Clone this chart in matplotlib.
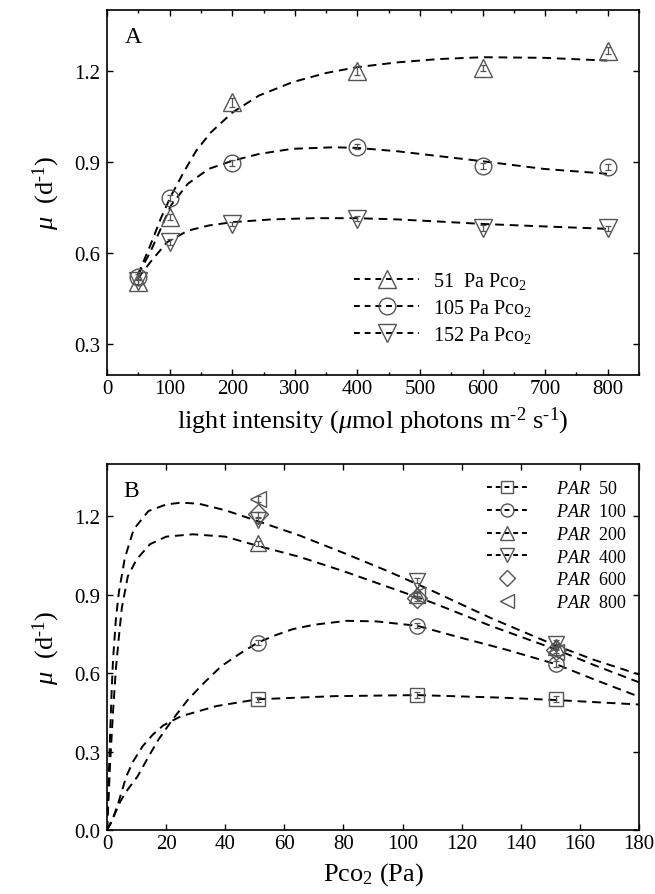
import matplotlib
matplotlib.use("Agg")
import matplotlib.pyplot as plt
from matplotlib.lines import Line2D

plt.rcParams['font.family'] = ['Liberation Serif', 'DejaVu Serif']
plt.rcParams['mathtext.fontset'] = 'custom'
plt.rcParams['mathtext.rm'] = 'Liberation Serif'
plt.rcParams['mathtext.it'] = 'Liberation Serif:italic'
plt.rcParams['axes.unicode_minus'] = False

# ---------------- Panel A data ----------------
light = [50, 100, 200, 400, 600, 800]
mu_51 = [0.505, 0.72, 1.096, 1.20, 1.208, 1.266]
mu_105 = [0.521, 0.78, 0.897, 0.95, 0.886, 0.882]
mu_152 = [0.507, 0.636, 0.696, 0.713, 0.682, 0.682]
err_51 = [0.010, 0.010, 0.015, 0.015, 0.010, 0.010]
err_105 = [0.010, 0.010, 0.010, 0.008, 0.010, 0.010]
err_152 = [0.008, 0.010, 0.006, 0.008, 0.010, 0.008]

# fitted curves
fitA_x51 = [48.8, 68.9, 85.6, 102.3, 122.4, 142.5, 165.9, 200.7, 242.8, 296.3,
            349.8, 398.7, 463.5, 530.4, 600.7, 697.7, 799.3]
fitA_y51 = [0.527, 0.625, 0.713, 0.789, 0.866, 0.937, 0.997, 1.063, 1.118, 1.162,
            1.192, 1.211, 1.227, 1.238, 1.244, 1.242, 1.233]
fitA_x105 = [48.8, 68.9, 85.6, 102.0, 129.0, 162.5, 200.7, 242.8, 296.0, 363.0,
             399.0, 463.5, 530.0, 600.7, 697.7, 799.0]
fitA_y105 = [0.527, 0.603, 0.680, 0.757, 0.828, 0.877, 0.904, 0.926, 0.943, 0.948,
             0.946, 0.935, 0.919, 0.902, 0.877, 0.861]
fitA_x152 = [48.8, 68.9, 95.7, 129.0, 162.5, 200.7, 263.0, 330.0, 398.7, 463.5,
             530.0, 600.7, 697.7, 799.0]
fitA_y152 = [0.516, 0.570, 0.636, 0.674, 0.691, 0.702, 0.711, 0.715, 0.715, 0.711,
             0.704, 0.696, 0.688, 0.680]

# ---------------- Panel B data ----------------
pco2 = [51, 105, 152]
par50 = [0.50, 0.516, 0.50]
par100 = [0.717, 0.781, 0.634]
par200 = [1.096, 0.897, 0.700]
par400 = [1.185, 0.954, 0.713]
par600 = [1.208, 0.886, 0.690]
par800 = [1.266, 0.900, 0.682]
errB = [0.010, 0.010, 0.012]

fitB_x50 = [0, 1.5, 3.7, 6.5, 8.8, 12, 15.5, 19, 25, 37, 51, 77, 105, 134, 152, 180]
fitB_y50 = [0, 0.03, 0.10, 0.205, 0.262, 0.32, 0.365, 0.40, 0.435, 0.474, 0.50,
            0.512, 0.516, 0.506, 0.497, 0.48]
fitB_x100 = [0, 2, 4.5, 7, 10.3, 14, 17.4, 22, 27.4, 33, 38.7, 45, 51, 57, 62.8, 70,
             81, 91, 105, 119.5, 135, 152, 165, 180]
fitB_y100 = [0, 0.045, 0.11, 0.155, 0.205, 0.28, 0.346, 0.42, 0.499, 0.565, 0.627,
             0.675, 0.717, 0.745, 0.768, 0.785, 0.80, 0.798, 0.781, 0.736, 0.69,
             0.634, 0.575, 0.51]
fitB_x200 = [0, 0.5, 1, 2, 3, 4, 5, 7, 10, 14.5, 20, 29, 40, 50, 65, 80, 95, 110,
             130, 152, 165, 180]
fitB_y200 = [0, 0.12, 0.25, 0.45, 0.62, 0.74, 0.85, 0.97, 1.035, 1.093, 1.122, 1.131,
             1.122, 1.09, 1.045, 0.99, 0.93, 0.87, 0.78, 0.69, 0.63, 0.565]
fitB_x400 = [0, 0.5, 1, 1.5, 2, 3, 4, 6, 9, 14, 20, 25, 31, 40, 50, 65, 80, 95, 110,
             130, 152, 165, 180]
fitB_y400 = [0, 0.18, 0.36, 0.52, 0.65, 0.81, 0.91, 1.04, 1.15, 1.22, 1.245, 1.252,
             1.248, 1.223, 1.185, 1.127, 1.06, 0.99, 0.915, 0.81, 0.705, 0.65, 0.595]

legendA = ["51  Pa Pco$_\\mathregular{2}$", "105 Pa Pco$_\\mathregular{2}$",
           "152 Pa Pco$_\\mathregular{2}$"]
legendB = ["$\\mathit{PAR}$  50", "$\\mathit{PAR}$  100", "$\\mathit{PAR}$  200",
           "$\\mathit{PAR}$  400", "$\\mathit{PAR}$  600", "$\\mathit{PAR}$  800"]

MC = '#555555'
LW_FIT = 1.4
DASH = (0, (4.5, 3))
HY = '\u2010'

fig = plt.figure(figsize=(6.55, 8.95), dpi=100)
axA = fig.add_axes([0.1635, 0.580, 0.812, 0.408])
axB = fig.add_axes([0.1635, 0.0715, 0.812, 0.409])


def style(ax):
    ax.tick_params(which='both', direction='in', top=True, right=True,
                   labelsize=15, width=1.0)
    ax.tick_params(which='major', length=4.5)
    ax.tick_params(which='minor', length=2.5)
    ax.tick_params(axis='x', which='major', pad=3)
    ax.tick_params(axis='y', which='major', pad=5)
    for s in ax.spines.values():
        s.set_linewidth(1.2)


def marks(ax, x, y, e, m, ms):
    ax.errorbar(x, y, yerr=e, fmt='none', ecolor=MC, elinewidth=0.9,
                capsize=2, capthick=0.9)
    ax.plot(x, y, linestyle='none', marker=m, ms=ms, mfc='none', mec=MC, mew=1.0)


ylab = "$\\mathit{\\mu}$  (d$^{\\mathregular{" + HY + "1}}$)"

# ---- Panel A ----
axA.plot(fitA_x51, fitA_y51, color='k', lw=LW_FIT, ls=DASH)
axA.plot(fitA_x105, fitA_y105, color='k', lw=LW_FIT, ls=DASH)
axA.plot(fitA_x152, fitA_y152, color='k', lw=LW_FIT, ls=DASH)
marks(axA, light, mu_51, err_51, '^', 13)
marks(axA, light, mu_105, err_105, 'o', 12)
marks(axA, light, mu_152, err_152, 'v', 13)
axA.set_xlim(0, 850)
axA.set_ylim(0.2, 1.4)
axA.set_xticks(range(0, 801, 100))
axA.set_xticks(range(50, 851, 100), minor=True)
axA.set_yticks([0.3, 0.6, 0.9, 1.2])
axA.set_yticklabels(['0.3', '0.6', '0.9', '1.2'])
style(axA)
axA.set_xlabel("light intensity ($\\mathit{\\mu}$mol photons m$^{\\mathregular{" + HY
               + "2}}$ s$^{\\mathregular{" + HY + "1}}$)", fontsize=19, labelpad=5)
axA.set_ylabel(ylab, fontsize=19, labelpad=9)
axA.text(0.034, 0.955, "A", transform=axA.transAxes, fontsize=17, va='top', ha='left')
hA = [Line2D([], [], color='k', lw=LW_FIT, ls=(0, (3, 2.5)), marker=m, ms=ms,
             mfc='none', mec=MC, mew=1.0)
      for m, ms in [('^', 13), ('o', 12), ('v', 13)]]
axA.legend(hA, legendA, loc='lower left', bbox_to_anchor=(0.45, 0.06),
           frameon=False, fontsize=14.5, handlelength=3.2, handletextpad=0.7,
           labelspacing=0.3, borderaxespad=0)

# ---- Panel B ----
for fx, fy in [(fitB_x50, fitB_y50), (fitB_x100, fitB_y100),
               (fitB_x200, fitB_y200), (fitB_x400, fitB_y400)]:
    axB.plot(fx, fy, color='k', lw=LW_FIT, ls=DASH)
marks(axB, pco2, par50, errB, 's', 10)
marks(axB, pco2, par100, errB, 'o', 11)
marks(axB, pco2, par200, errB, '^', 12)
marks(axB, pco2, par400, errB, 'v', 12)
marks(axB, pco2, par600, errB, 'D', 10)
marks(axB, pco2, par800, errB, '<', 12)
axB.set_xlim(0, 180)
axB.set_ylim(0, 1.4)
axB.set_xticks(range(0, 181, 20))
axB.set_yticks([0.0, 0.3, 0.6, 0.9, 1.2])
axB.set_yticklabels(['0.0', '0.3', '0.6', '0.9', '1.2'])
style(axB)
axB.set_xlabel("Pco$_\\mathregular{2}$ (Pa)", fontsize=19, labelpad=5)
axB.set_ylabel(ylab, fontsize=19, labelpad=9)
axB.text(0.03, 0.955, "B", transform=axB.transAxes, fontsize=17, va='top', ha='left')
hB = []
for m, ms, withline in [('s', 10, True), ('o', 11, True), ('^', 12, True),
                        ('v', 12, True), ('D', 10, False), ('<', 12, False)]:
    hB.append(Line2D([], [], color='k', lw=LW_FIT if withline else 0,
                     ls=(0, (2.5, 2)) if withline else 'none', marker=m, ms=ms * 0.85,
                     mfc='none', mec=MC, mew=1.0))
axB.legend(hB, legendB, loc='upper right', bbox_to_anchor=(0.99, 0.975),
           frameon=False, fontsize=13, handlelength=2.2, handletextpad=1.6,
           labelspacing=0.32, borderaxespad=0)

fig.savefig("out.png", dpi=100)
